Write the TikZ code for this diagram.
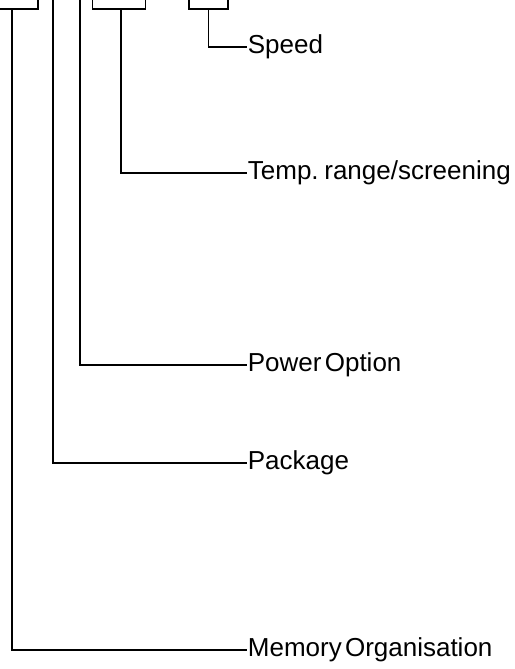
\documentclass[tikz,border=0pt]{standalone}
\usepackage{fontspec}
\setmainfont[WordSpace=0.45]{Liberation Sans}
\def\tx{247}
\def\boxh{40pt}
\begin{document}
\begin{tikzpicture}[x=1pt, y=-1pt, line width=1.8pt,
    fieldname/.style={anchor=west, inner sep=0pt, text height=12pt, text depth=0pt,
        font=\fontsize{26}{30}\selectfont},
    fieldbox/.style={draw, rectangle, anchor=south, minimum width=#1,
        minimum height=\boxh, inner sep=0pt}]
    \useasboundingbox (0,0) rectangle (514,669);
    \clip (0,0) rectangle (514,669);
    % boxes, cut off at the top
    \node[fieldbox=52pt] (bmem) at (12,10) {};
    \node[fieldbox=53pt] (btemp) at (119,10) {};
    \node[fieldbox=39pt] (bspeed) at (208.5,10) {};
    \coordinate (pkgtop) at (53,-5);
    \coordinate (pwrtop) at (80,-5);
    % field names
    \node[fieldname] (speed) at (\tx,47) {Speed};
    \node[fieldname] (temp) at (\tx,173) {Temp. range/screening};
    \node[fieldname] (power) at (\tx,365) {Power Option};
    \node[fieldname] (pkg) at (\tx,463) {Package};
    \node[fieldname] (mem) at (\tx,650) {Memory Organisation};
    % leads
    \draw (bspeed.south) |- (speed.west);
    \draw ([xshift=2pt]btemp.south) |- (temp.west);
    \draw (pwrtop) |- (power.west);
    \draw (pkgtop) |- (pkg.west);
    \draw (bmem.south) |- (mem.west);
\end{tikzpicture}
\end{document}
